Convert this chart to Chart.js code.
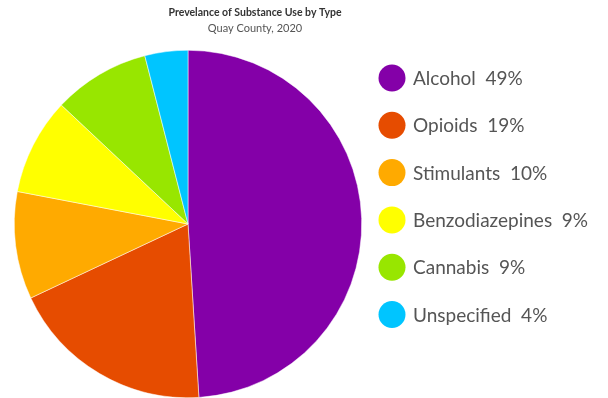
<!DOCTYPE html>
<html>
<head>
<meta charset="utf-8">
<script src="https://cdn.jsdelivr.net/npm/chart.js@4"></script>
<style>
  body { margin: 0; background: #fff; }
  #wrap { width: 608px; height: 398px; }
</style>
</head>
<body>
<div id="wrap"><canvas id="grafico"></canvas></div>
<script>
const categorias = ["Alcohol", "Opioids", "Stimulants", "Benzodiazepines", "Cannabis", "Unspecified"];
const porcentajes = [49, 19, 10, 9, 9, 4];
const colores = ["#8400a8", "#e64c00", "#ffaa00", "#ffff00", "#98e600", "#00c5ff"];

const titulo = "Prevelance of Substance Use by Type";
const subtitulo = "Quay County, 2020";

// titulo y leyenda dibujados a mano
const extras = {
  id: "extras",
  afterDraw(chart) {
    const ctx = chart.ctx;
    ctx.save();
    ctx.textAlign = "center";
    ctx.textBaseline = "middle";
    ctx.fillStyle = "#333";
    ctx.font = "bold 10.5px Lato";
    ctx.fillText(titulo, 255, 13);
    ctx.fillStyle = "#555";
    ctx.font = "11px Lato";
    ctx.fillText(subtitulo, 255, 28);

    ctx.textAlign = "left";
    ctx.font = "19px Lato";
    categorias.forEach((c, i) => {
      let y = 78 + i * 47.3;
      ctx.fillStyle = colores[i];
      ctx.beginPath();
      ctx.arc(392, y, 13.5, 0, Math.PI * 2);
      ctx.fill();
      ctx.fillStyle = "#555";
      ctx.fillText(c + "  " + porcentajes[i] + "%", 413, y + 1);
    });
    ctx.restore();
  },
};

new Chart(document.getElementById("grafico"), {
  type: "pie",
  data: {
    labels: categorias,
    datasets: [
      {
        data: porcentajes,
        backgroundColor: colores,
        borderColor: "#ffffff",
        borderWidth: 0.5,
      },
    ],
  },
  options: {
    responsive: true,
    maintainAspectRatio: false,
    animation: false,
    layout: {
      padding: { left: 14, right: 246, top: 50, bottom: 0 },
    },
    plugins: {
      legend: { display: false },
      tooltip: { enabled: false },
    },
  },
  plugins: [extras],
});
</script>
</body>
</html>
